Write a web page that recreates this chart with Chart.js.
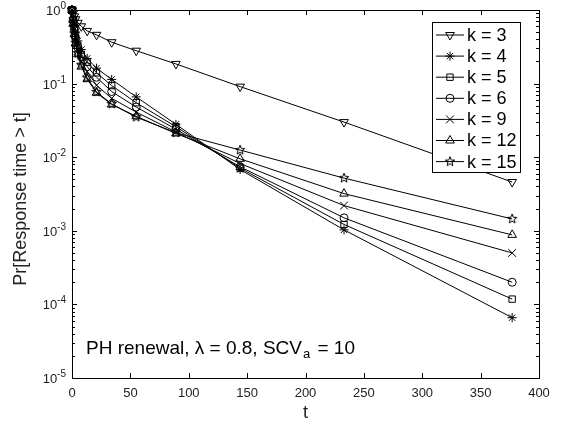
<!DOCTYPE html>
<html>
<head>
<meta charset="utf-8">
<script src="https://cdn.jsdelivr.net/npm/chart.js@4.4.1/dist/chart.umd.min.js"></script>
<style>
html, body { margin: 0; padding: 0; background: #fff; }
#wrap { width: 561px; height: 430px; }
</style>
</head>
<body>
<div id="wrap"><canvas id="myChart" width="561" height="430"></canvas></div>
<script>
const FONT = "'Liberation Sans', Arial, Helvetica, sans-serif";

// temps communs a toutes les courbes
const tValues = [0, 1, 2, 3, 5, 8, 13, 21, 34, 55, 89, 144, 233, 377];
const kLabels = ['k = 3', 'k = 4', 'k = 5', 'k = 6', 'k = 9', 'k = 12', 'k = 15'];

// Pr[Response time > t] pour chaque k
const k3  = [1, 0.90, 0.82, 0.75, 0.67, 0.60, 0.52, 0.46, 0.365, 0.28, 0.185, 0.091, 0.030, 0.0046];
const k4  = [1, 0.78, 0.62, 0.50, 0.38, 0.29, 0.22, 0.162, 0.114, 0.066, 0.028, 0.0068, 0.00103, 0.000066];
const k5  = [1, 0.74, 0.57, 0.45, 0.33, 0.25, 0.195, 0.14, 0.094, 0.055, 0.026, 0.0071, 0.00122, 0.000118];
const k6  = [1, 0.72, 0.54, 0.42, 0.31, 0.23, 0.17, 0.122, 0.078, 0.048, 0.024, 0.0074, 0.0015, 0.0002];
const k9  = [1, 0.68, 0.50, 0.38, 0.28, 0.20, 0.145, 0.095, 0.063, 0.041, 0.022, 0.0082, 0.0022, 0.0005];
const k12 = [1, 0.65, 0.47, 0.35, 0.25, 0.17, 0.115, 0.075, 0.052, 0.036, 0.021, 0.0095, 0.0032, 0.00088];
const k15 = [1, 0.66, 0.48, 0.36, 0.26, 0.18, 0.12, 0.077, 0.053, 0.035, 0.0215, 0.0125, 0.0052, 0.00145];

const xTicks = [0, 50, 100, 150, 200, 250, 300, 350, 400];
const yDecades = [0, -1, -2, -3, -4, -5];

// marqueur pentagramme (pas dispo dans Chart.js)
function makePentagram(r) {
    const size = Math.ceil(r * 2 + 4);
    const c = document.createElement('canvas');
    c.width = size; c.height = size;
    const g = c.getContext('2d');
    g.beginPath();
    for (let i = 0; i < 10; i++) {
        const rr = i % 2 === 0 ? r : r * 0.42;
        const a = -Math.PI / 2 + i * Math.PI / 5;
        const px = size / 2 + rr * Math.cos(a);
        const py = size / 2 + rr * Math.sin(a);
        if (i === 0) g.moveTo(px, py); else g.lineTo(px, py);
    }
    g.closePath();
    g.strokeStyle = '#000';
    g.lineWidth = 1;
    g.stroke();
    return c;
}
const pentagram = makePentagram(5);

const series = [k3, k4, k5, k6, k9, k12, k15];
const markers = [
    { style: 'triangle', radius: 5, rotation: 180 },
    { style: 'star', radius: 4.5, rotation: 0 },
    { style: 'rect', radius: 4.5, rotation: 0 },
    { style: 'circle', radius: 4, rotation: 0 },
    { style: 'crossRot', radius: 5.5, rotation: 0 },
    { style: 'triangle', radius: 5, rotation: 0 },
    { style: pentagram, radius: 5, rotation: 0 }
];

const datasets = series.map((vals, i) => ({
    label: kLabels[i],
    data: tValues.map((t, j) => ({ x: t, y: vals[j] })),
    borderColor: '#000',
    borderWidth: 1,
    backgroundColor: 'rgba(0,0,0,0)',
    pointStyle: markers[i].style,
    pointRadius: markers[i].radius,
    pointRotation: markers[i].rotation,
    pointBorderColor: '#000',
    pointBorderWidth: 1,
    pointBackgroundColor: 'rgba(0,0,0,0)',
    tension: 0,
    clip: false
}));

// cadre, graduations, labels 10^n, titre y, legende et annotation
const decorPlugin = {
    id: 'decor',
    afterDraw(chart) {
        const ctx = chart.ctx;
        const a = chart.chartArea;
        const xs = chart.scales.x, ys = chart.scales.y;
        ctx.save();
        ctx.strokeStyle = '#000';
        ctx.lineWidth = 1;

        // cadre
        ctx.strokeRect(Math.round(a.left) + 0.5, Math.round(a.top) + 0.5,
            Math.round(a.right - a.left), Math.round(a.bottom - a.top));

        // graduations x (bas et haut)
        ctx.beginPath();
        xTicks.forEach(v => {
            const px = Math.round(xs.getPixelForValue(v)) + 0.5;
            ctx.moveTo(px, a.bottom); ctx.lineTo(px, a.bottom - 5);
            ctx.moveTo(px, a.top); ctx.lineTo(px, a.top + 5);
        });
        // graduations y (majeures et mineures, gauche et droite)
        yDecades.forEach(n => {
            for (let m = 1; m <= 9; m++) {
                const v = m * Math.pow(10, n - 1);
                if (v < 1e-5 || v > 1) continue;
                const py = Math.round(ys.getPixelForValue(v)) + 0.5;
                const len = m === 1 ? 5 : 3;
                ctx.moveTo(a.left, py); ctx.lineTo(a.left + len, py);
                ctx.moveTo(a.right, py); ctx.lineTo(a.right - len, py);
            }
        });
        const py0 = Math.round(ys.getPixelForValue(1)) + 0.5;
        ctx.moveTo(a.left, py0); ctx.lineTo(a.left + 5, py0);
        ctx.moveTo(a.right, py0); ctx.lineTo(a.right - 5, py0);
        ctx.stroke();

        // labels y en puissances de 10
        ctx.fillStyle = '#222';
        ctx.textBaseline = 'alphabetic';
        yDecades.forEach(n => {
            const py = ys.getPixelForValue(Math.pow(10, n));
            const sup = String(n);
            ctx.font = '10px ' + FONT;
            const supW = ctx.measureText(sup).width;
            const right = a.left - 6;
            ctx.textAlign = 'left';
            ctx.fillText(sup, right - supW, py - 1);
            ctx.font = '13px ' + FONT;
            ctx.textAlign = 'right';
            ctx.fillText('10', right - supW, py + 5);
        });

        // titre de l'axe y
        ctx.save();
        ctx.translate(21, 199);
        ctx.rotate(-Math.PI / 2);
        ctx.font = '18px ' + FONT;
        ctx.textAlign = 'center';
        ctx.textBaseline = 'middle';
        ctx.fillText('Pr[Response time > t]', 0, 0);
        ctx.restore();

        // annotation
        ctx.fillStyle = '#000';
        ctx.textAlign = 'left';
        ctx.textBaseline = 'middle';
        let x = 86;
        const y = 349;
        const main = 'PH renewal, \u03bb = 0.8, SCV';
        ctx.font = '19px ' + FONT;
        ctx.fillText(main, x, y);
        x += ctx.measureText(main).width + 1;
        ctx.font = '13px ' + FONT;
        ctx.fillText('a', x, y + 5);
        x += ctx.measureText('a').width;
        ctx.font = '19px ' + FONT;
        ctx.fillText(' = 10', x + 2, y);

        // legende
        const lx = 432, ly = 22, lw = 88, lh = 150;
        ctx.fillStyle = '#fff';
        ctx.fillRect(lx, ly, lw, lh);
        ctx.strokeRect(lx + 0.5, ly + 0.5, lw, lh);
        kLabels.forEach((lab, i) => {
            const ry = 35 + i * 21.1;
            ctx.beginPath();
            ctx.moveTo(436, ry); ctx.lineTo(464, ry);
            ctx.stroke();
            ctx.fillStyle = 'rgba(0,0,0,0)';
            ctx.strokeStyle = '#000';
            ctx.lineWidth = 1;
            Chart.helpers.drawPoint(ctx, {
                pointStyle: markers[i].style,
                radius: markers[i].radius,
                rotation: markers[i].rotation,
                borderWidth: 1
            }, 450, ry);
            ctx.fillStyle = '#000';
            ctx.font = '18px ' + FONT;
            ctx.textAlign = 'left';
            ctx.textBaseline = 'middle';
            ctx.fillText(lab, 467, ry + 1);
        });
        ctx.restore();
    }
};

const ctx = document.getElementById('myChart').getContext('2d');
const myChart = new Chart(ctx, {
    type: 'line',
    data: { datasets: datasets },
    options: {
        responsive: false,
        animation: false,
        devicePixelRatio: 1,
        layout: { padding: { top: 10, right: 22, left: 0, bottom: 0 } },
        plugins: { legend: { display: false }, tooltip: { enabled: false } },
        scales: {
            x: {
                type: 'linear',
                min: 0,
                max: 400,
                ticks: {
                    stepSize: 50,
                    color: '#222',
                    font: { family: FONT, size: 13 },
                    padding: 8,
                    maxRotation: 0
                },
                grid: { display: false, drawTicks: false },
                border: { display: false },
                title: {
                    display: true,
                    text: 't',
                    color: '#222',
                    font: { family: FONT, size: 18 },
                    padding: { top: 0, bottom: 6 }
                },
                afterFit: s => { s.height = 52; }
            },
            y: {
                type: 'logarithmic',
                min: 1e-5,
                max: 1,
                ticks: { display: false },
                grid: { display: false, drawTicks: false },
                border: { display: false },
                afterFit: s => { s.width = 72; }
            }
        }
    },
    plugins: [decorPlugin]
});
</script>
</body>
</html>
